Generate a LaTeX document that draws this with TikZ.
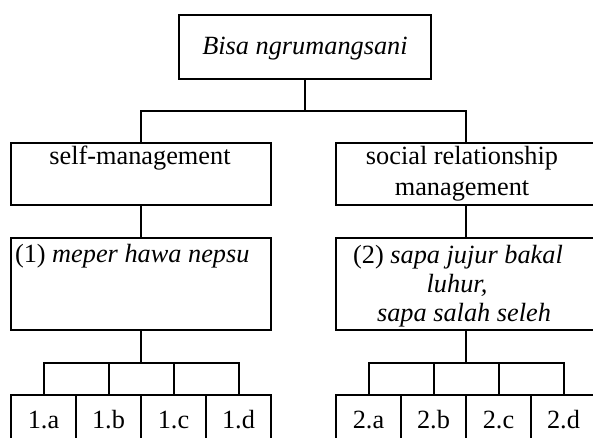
\documentclass[tikz,border=0pt]{standalone}
\usepackage{fontspec}
\setmainfont{Liberation Serif}[ItalicFont={Liberation Serif Italic}]
\begin{document}
\begin{tikzpicture}[x=1pt,y=-1pt,line width=2pt,
  boxshape/.style={draw,line width=2pt,inner sep=0pt,outer sep=0pt},
  txt/.style={inner sep=0pt,outer sep=0pt,font=\fontsize{26.3}{29}\selectfont},
  cell/.style={boxshape,minimum width=65pt,minimum height=80pt}]
\useasboundingbox (0,0) rectangle (593,438);
\clip (0,0) rectangle (593,438);
% level 1
\node[boxshape,minimum width=252pt,minimum height=64pt] (top) at (305,47) {};
\node[txt,anchor=base] (toptxt) at (305,55) {\itshape Bisa ngrumangsani};
% level 2
\node[boxshape,minimum width=260pt,minimum height=62pt] (sm) at (141,174) {};
\node[boxshape,minimum width=261pt,minimum height=62pt] (srm) at (466,174) {};
\node[txt,anchor=base] (smtxt) at (140,165) {self-management};
\node[txt,anchor=base] (srmtxt1) at (462,165) {social relationship};
\node[txt,anchor=base] (srmtxt2) at (462,195) {management};
% level 3
\node[boxshape,minimum width=260pt,minimum height=92pt] (mp) at (141,284) {};
\node[boxshape,minimum width=261pt,minimum height=92pt] (sj) at (466,284) {};
\node[txt,anchor=base west] (mptxt) at (15,262) {(1) \itshape meper hawa nepsu};
\node[txt,anchor=base] (sjtxt1) at (458,263) {(2) \itshape sapa jujur bakal};
\node[txt,anchor=base] (sjtxt2) at (457,292) {\itshape luhur,};
\node[txt,anchor=base] (sjtxt3) at (464,321) {\itshape sapa salah seleh};
% level 4
\node[cell] (a1) at (43.5,435) {};
\node[cell] (b1) at (108.5,435) {};
\node[cell] (c1) at (173.5,435) {};
\node[cell] (d1) at (238.5,435) {};
\node[cell] (a2) at (368.5,435) {};
\node[cell] (b2) at (433.5,435) {};
\node[cell] (c2) at (498.5,435) {};
\node[cell] (d2) at (563.5,435) {};
\foreach \c/\t in {a1/1.a,b1/1.b,c1/1.c,d1/1.d,a2/2.a,b2/2.b,c2/2.c,d2/2.d}
  \node[txt,anchor=base] (\c txt) at (\c.center |- 0,428) {\t};
% connectors
\coordinate (j1) at (305,111);
\coordinate (j2) at (141,363);
\coordinate (j3) at (466,363);
\draw (top.south) -- (j1);
\draw (sm.north) |- (j1) -| (srm.north);
\draw (sm.south) -- (mp.north);
\draw (srm.south) -- (sj.north);
\draw (mp.south) -- (j2);
\draw (sj.south) -- (j3);
\draw (a1.north) |- (j2) -| (d1.north);
\draw (b1.north) -- (b1.north |- j2);
\draw (c1.north) -- (c1.north |- j2);
\draw (a2.north) |- (j3) -| (d2.north);
\draw (b2.north) -- (b2.north |- j3);
\draw (c2.north) -- (c2.north |- j3);
\end{tikzpicture}
\end{document}
